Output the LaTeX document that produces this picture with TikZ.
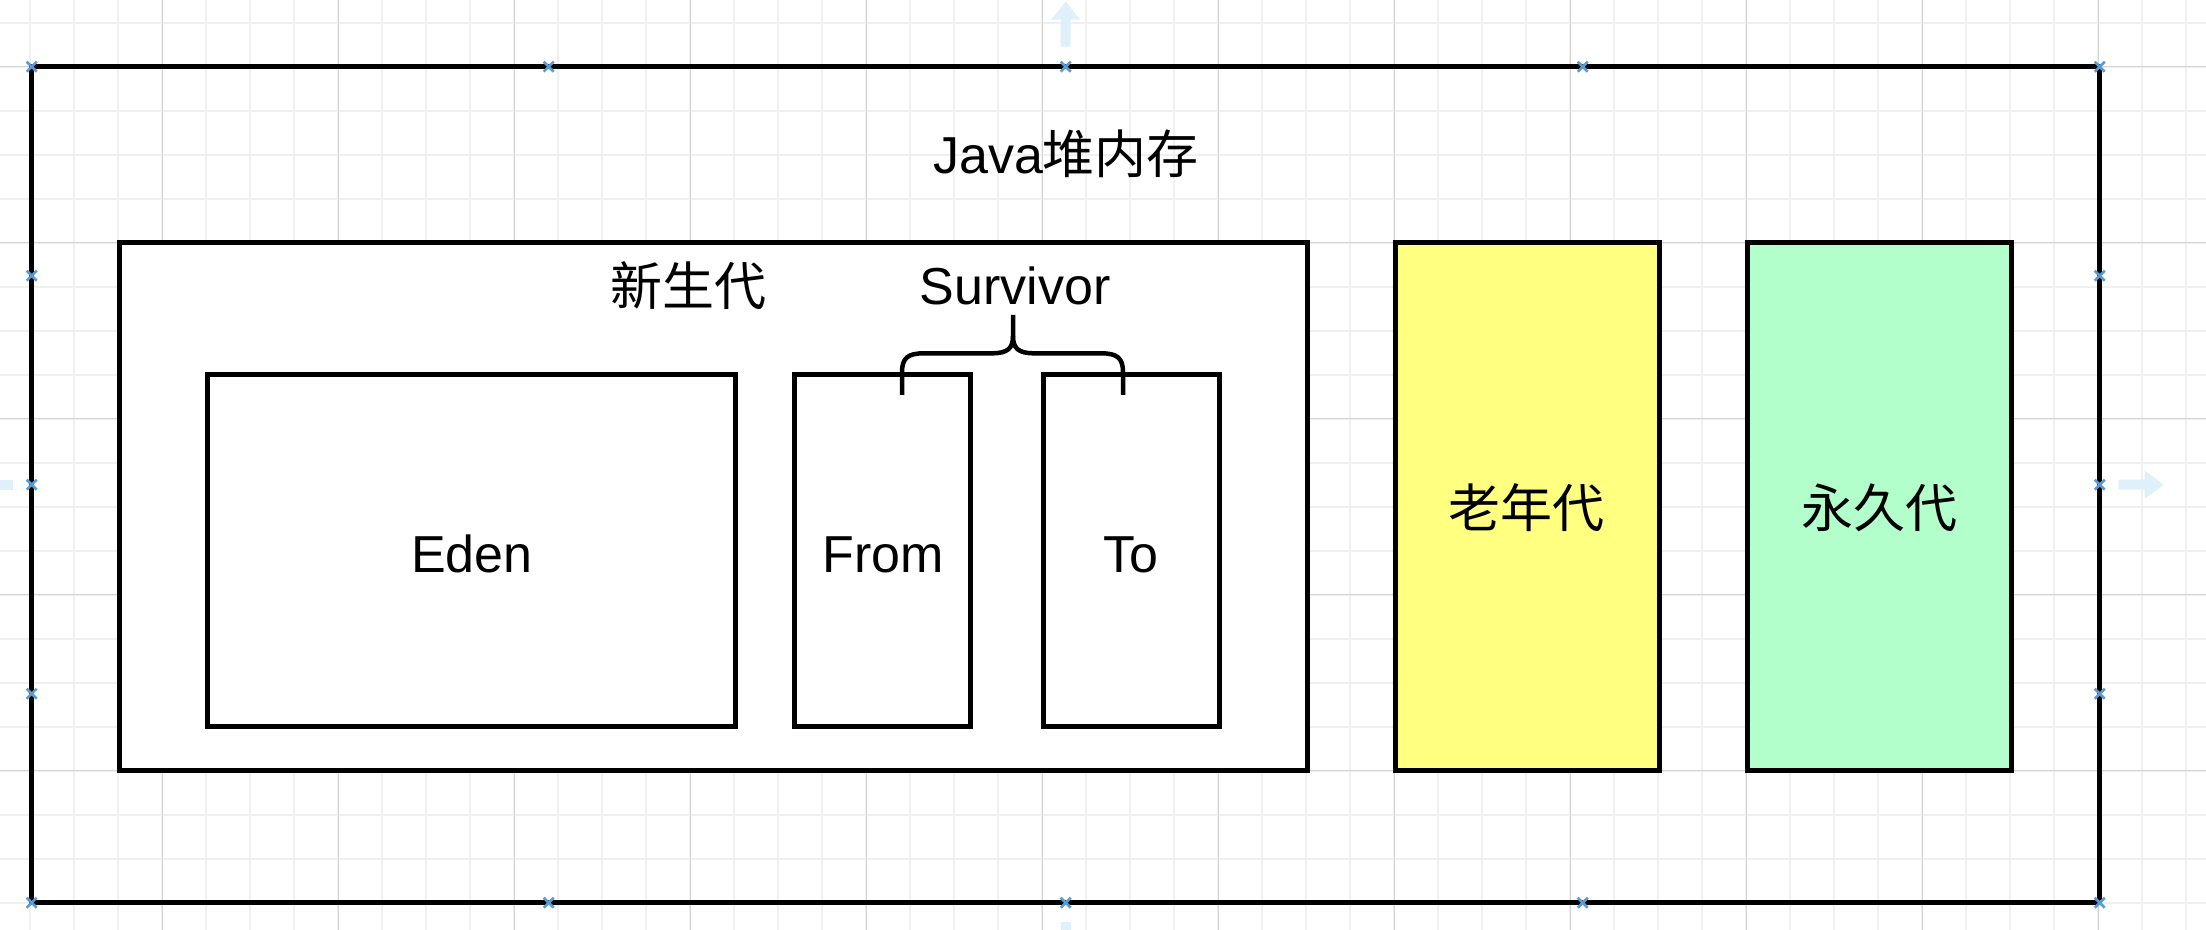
\documentclass[tikz,border=0pt]{standalone}
\usepackage{fontspec}
\setmainfont{Liberation Sans}
\newfontfamily\cjk{Noto Sans CJK SC}
\definecolor{minorgrid}{RGB}{240,240,240}
\definecolor{majorgrid}{RGB}{212,212,212}
\definecolor{selblue}{RGB}{90,155,210}
\definecolor{hintblue}{RGB}{224,240,250}
\definecolor{oldfill}{RGB}{255,255,128}
\definecolor{permfill}{RGB}{179,255,204}
\begin{document}
\begin{tikzpicture}[x=0.5pt, y=-0.5pt,
  box/.style={draw=black, line width=2.25pt, fill=white, inner sep=0pt, outer sep=0pt},
  lbl/.style={font=\fontsize{26}{30}\selectfont, inner sep=0pt, anchor=base},
  minorline/.style={draw=minorgrid, line width=1pt},
  majorline/.style={draw=majorgrid, line width=0.5pt},
  selmark/.style={draw=selblue, line width=1.3pt},
  hint/.style={fill=hintblue, draw=none}]
\useasboundingbox (0,0) rectangle (2206,930);
\fill[white] (0,0) rectangle (2206,930);
% grid
\foreach \gx in {30,74,...,2206} \draw[minorline] (\gx,0) -- (\gx,930);
\foreach \gy in {22.7,66.7,...,930} \draw[minorline] (0,\gy) -- (2206,\gy);
\foreach \gx in {162,338,...,2206} \draw[majorline] (\gx,0) -- (\gx,930);
\foreach \gy in {66.7,242.7,...,930} \draw[majorline] (0,\gy) -- (2206,\gy);
% faint hint arrows
\fill[hint] (1060.7,46.7) -- (1060.7,19.7) -- (1051.2,19.7) -- (1065.7,1.7) -- (1080.2,19.7) -- (1070.7,19.7) -- (1070.7,46.7) -- cycle;
\fill[hint] (2118.7,479.7) -- (2144.7,479.7) -- (2144.7,470.7) -- (2163.7,484.7) -- (2144.7,498.7) -- (2144.7,489.7) -- (2118.7,489.7) -- cycle;
\fill[hint] (12.7,479.7) -- (-14,479.7) -- (-14,489.7) -- (12.7,489.7) -- cycle;
\fill[hint] (1060.7,921.7) -- (1070.7,921.7) -- (1070.7,940) -- (1060.7,940) -- cycle;
% boxes
\node[box, fill=none, minimum width=1034pt, minimum height=418pt] (heap) at (1065.7,484.7) {};
\node[box, minimum width=594pt, minimum height=264pt] (young) at (713.7,506.7) {};
\node[box, minimum width=264pt, minimum height=176pt] (eden) at (471.7,550.7) {};
\node[box, minimum width=88pt, minimum height=176pt] (from) at (882.5,550.7) {};
\node[box, minimum width=88pt, minimum height=176pt] (to) at (1131.7,550.7) {};
\node[box, fill=oldfill, minimum width=132pt, minimum height=264pt] (old) at (1527.7,506.7) {};
\node[box, fill=permfill, minimum width=132pt, minimum height=264pt] (perm) at (1879.7,506.7) {};
% labels
\node[lbl] (heapL) at (1066,174) {Java{\cjk 堆内存}};
\node[lbl] (youngL) at (688,306) {\cjk 新生代};
\node[lbl] (survL) at (1015,305) {Survivor};
\node[lbl] (edenL) at (472,572) {Eden};
\node[lbl] (fromL) at (883,572) {From};
\node[lbl] (toL) at (1131,572) {To};
\node[lbl] (oldL) at (1526,527) {\cjk 老年代};
\node[lbl] (permL) at (1879,527) {\cjk 永久代};
% curly brace under Survivor
\coordinate (braceL) at (902,395);
\coordinate (braceR) at (1123,395);
\coordinate (braceTip) at (1013,315);
\draw[line width=2.25pt] (braceL) -- (902,372) .. controls (902,358) and (908,353.3) .. (924,353.3) -- (992,353.3) .. controls (1008,353.3) and (1013,348) .. (1013,336) -- (braceTip);
\draw[line width=2.25pt] (1013,336) .. controls (1013,348) and (1018,353.3) .. (1034,353.3) -- (1101,353.3) .. controls (1117,353.3) and (1123,358) .. (1123,372) -- (braceR);
% selection markers
\foreach \mx/\my in {31.7/66.7, 548.7/66.7, 1065.7/66.7, 1582.7/66.7, 2099.7/66.7,
  31.7/902.7, 548.7/902.7, 1065.7/902.7, 1582.7/902.7, 2099.7/902.7,
  31.7/275.7, 31.7/484.7, 31.7/693.7, 2099.7/275.7, 2099.7/484.7, 2099.7/693.7}
  \draw[selmark] (\mx-5,\my-5) -- (\mx+5,\my+5) (\mx-5,\my+5) -- (\mx+5,\my-5);
\end{tikzpicture}
\end{document}
